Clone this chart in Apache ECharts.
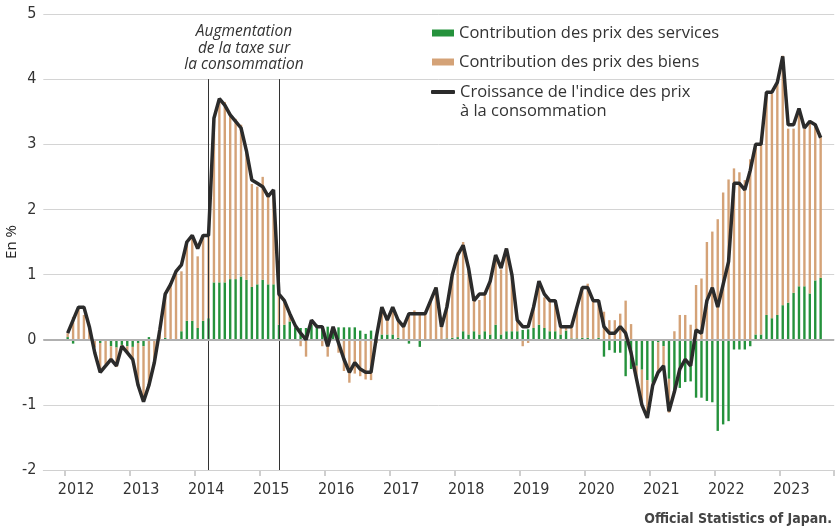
<!DOCTYPE html>
<html>
<head>
<meta charset="utf-8">
<script src="https://cdn.jsdelivr.net/npm/echarts@6/dist/echarts.min.js"></script>
<style>
  html, body { margin: 0; padding: 0; background: #fff; }
  #chart { width: 837px; height: 530px; }
</style>
</head>
<body>
<div id="chart"></div>
<script>
// Japon : contributions à la hausse des prix (glissement annuel, en %)

// axe des mois : de sept. 2011 à oct. 2023 (marges vides de part et d'autre des données)
const axisStart = { year: 2011, month: 9 };
const axisMonthCount = 146;
const dataStart = '2012-01';

// contribution des services (une valeur par mois, janv. 2012 -> août 2023)
const services = [
  0.04, -0.06, 0, 0, 0, 0, -0.05, -0.02, -0.1, -0.12, -0.08, -0.1,
  -0.11, -0.05, -0.1, 0.04, 0, 0.01, 0.03, 0, 0, 0.13, 0.29, 0.29,
  0.18, 0.29, 0.33, 0.88, 0.88, 0.88, 0.93, 0.93, 0.97, 0.92, 0.81, 0.85,
  0.92, 0.85, 0.85, 0.23, 0.23, 0.28, 0.19, 0.18, 0.18, 0.23, 0.23, 0.19,
  0.2, 0.18, 0.19, 0.19, 0.19, 0.19, 0.14, 0.09, 0.14, 0.06, 0.08, 0.08,
  0.08, 0.03, 0, -0.06, 0, -0.11, 0, 0, 0, 0, 0.02, 0.03,
  0.04, 0.13, 0.08, 0.13, 0.08, 0.13, 0.08, 0.23, 0.08, 0.13, 0.13, 0.13,
  0.15, 0.16, 0.18, 0.23, 0.18, 0.13, 0.13, 0.08, 0.14, 0.02, 0.02, 0.03,
  0.03, 0.01, 0.03, -0.26, -0.16, -0.2, -0.2, -0.56, -0.45, -0.4, -0.46, -0.62,
  -0.66, -0.04, -0.1, -0.6, -0.79, -0.74, -0.65, -0.64, -0.89, -0.89, -0.94, -0.96,
  -1.4, -1.3, -1.25, -0.15, -0.15, -0.15, -0.1, 0.08, 0.08, 0.38, 0.33, 0.38,
  0.53, 0.57, 0.72, 0.82, 0.82, 0.71, 0.91, 0.95
];

// contribution des biens
const biens = [
  0.06, 0.35, 0.5, 0.38, 0.2, -0.12, -0.45, -0.36, -0.22, -0.3, -0.05, -0.12,
  -0.2, -0.65, -0.85, -0.72, -0.35, 0.15, 0.7, 0.84, 1.05, 0.92, 1.22, 1.3,
  1.1, 1.3, 1.28, 2.5, 2.83, 2.77, 2.54, 2.46, 2.33, 1.98, 1.58, 1.5,
  1.58, 1.35, 1.44, 0.48, 0.36, 0.13, 0.04, -0.1, -0.26, 0.07, 0, -0.1,
  -0.26, 0, -0.2, -0.48, -0.66, -0.52, -0.56, -0.61, -0.62, -0.05, 0.42, 0.22,
  0.42, 0.27, 0.2, 0.4, 0.45, 0.4, 0.4, 0.6, 0.8, 0.2, 0.55, 1.0,
  1.3, 1.37, 0.97, 0.47, 0.53, 0.57, 0.82, 1.07, 1.0, 1.27, 0.82, 0.17,
  -0.1, -0.05, 0.32, 0.67, 0.47, 0.47, 0.45, 0.14, 0.05, 0.2, 0.48, 0.77,
  0.83, 0.6, 0.53, 0.43, 0.3, 0.3, 0.4, 0.6, 0.24, -0.2, -0.5, -0.55,
  -0.05, -0.45, -0.3, -0.52, 0.13, 0.38, 0.38, 0.23, 0.84, 0.94, 1.5, 1.66,
  1.85, 2.26, 2.46, 2.63, 2.57, 2.45, 2.77, 2.87, 2.92, 3.42, 3.45, 3.6,
  3.83, 2.67, 2.52, 2.7, 2.42, 2.63, 2.38, 2.16
];

// croissance de l'indice des prix à la consommation
const ipc = [
  0.1, 0.3, 0.5, 0.5, 0.2, -0.2, -0.5, -0.4, -0.3, -0.4, -0.1, -0.2,
  -0.3, -0.7, -0.95, -0.7, -0.35, 0.15, 0.7, 0.85, 1.05, 1.15, 1.5, 1.6,
  1.4, 1.6, 1.6, 3.4, 3.7, 3.6, 3.45, 3.35, 3.25, 2.9, 2.45, 2.4,
  2.35, 2.2, 2.3, 0.7, 0.6, 0.4, 0.22, 0.1, 0, 0.3, 0.2, 0.2,
  -0.1, 0.2, -0.05, -0.3, -0.5, -0.35, -0.45, -0.5, -0.5, 0.05, 0.5, 0.3,
  0.5, 0.3, 0.2, 0.4, 0.4, 0.4, 0.4, 0.6, 0.8, 0.2, 0.5, 1.0,
  1.3, 1.45, 1.1, 0.6, 0.7, 0.7, 0.9, 1.3, 1.1, 1.4, 1.0, 0.3,
  0.2, 0.2, 0.5, 0.9, 0.7, 0.6, 0.6, 0.2, 0.2, 0.2, 0.5, 0.8,
  0.8, 0.6, 0.6, 0.2, 0.1, 0.1, 0.2, 0.1, -0.2, -0.6, -1.0, -1.2,
  -0.7, -0.5, -0.4, -1.1, -0.8, -0.45, -0.3, -0.4, 0.15, 0.1, 0.6, 0.8,
  0.5, 0.85, 1.2, 2.4, 2.4, 2.3, 2.6, 3.0, 3.0, 3.8, 3.8, 3.95,
  4.35, 3.3, 3.3, 3.55, 3.25, 3.35, 3.3, 3.1
];

// traits verticaux : période de la hausse de la taxe sur la consommation
const taxMarks = ['2014-03', '2015-04'];

const nameServices = 'Contribution des prix des services';
const nameBiens = 'Contribution des prix des biens';
const nameIpc = "Croissance de l'indice des prix\nà la consommation";

const uiFont = "'Open Sans', 'Noto Sans', sans-serif";
const axisFont = "'Liberation Sans Narrow', 'DejaVu Sans Condensed', 'DejaVu Sans', sans-serif";

function monthLabel(year, month) {
  return year + '-' + String(month).padStart(2, '0');
}

// liste des mois de l'axe
const months = [];
for (let k = 0; k < axisMonthCount; k++) {
  const m = axisStart.month - 1 + k;
  months.push(monthLabel(axisStart.year + Math.floor(m / 12), (m % 12) + 1));
}
const offset = months.indexOf(dataStart);

function toPairs(values) {
  return values.map((v, i) => [months[offset + i], v]);
}

const isJanuary = (index, value) => value.endsWith('-01');

const chart = echarts.init(document.getElementById('chart'), null, { renderer: 'canvas' });

const option = {
  animation: false,
  backgroundColor: '#fff',
  grid: { left: 43.3, right: 2.8, top: 14, bottom: 60, outerBoundsMode: 'none' },
  legend: [
    {
      orient: 'vertical',
      left: 432,
      top: 23.5,
      padding: 0,
      itemWidth: 22,
      itemHeight: 7,
      itemGap: 10,
      selectedMode: false,
      textStyle: { fontSize: 16.5, lineHeight: 19, color: '#333', fontFamily: uiFont },
      data: [
        { name: nameServices, icon: 'rect' },
        { name: nameBiens, icon: 'rect' }
      ]
    },
    {
      left: 431,
      top: 63.5,
      padding: 0,
      itemWidth: 24,
      itemHeight: 4,
      selectedMode: false,
      // ligne vide en tête : la première ligne du texte reste à hauteur du trait
      formatter: name => '\n' + name,
      textStyle: { fontSize: 16.5, lineHeight: 19, color: '#333', fontFamily: uiFont },
      data: [{ name: nameIpc, icon: 'roundRect' }]
    }
  ],
  xAxis: {
    type: 'category',
    data: months,
    boundaryGap: true,
    axisLine: { show: true, onZero: false, lineStyle: { color: '#d0d0d0', width: 1 } },
    axisTick: {
      show: true,
      interval: isJanuary,
      alignWithLabel: false,
      length: 6,
      lineStyle: { color: '#cfcfcf', width: 2 }
    },
    axisLabel: {
      interval: isJanuary,
      formatter: v => v.slice(0, 4),
      margin: 12,
      padding: [0, 0, 0, 17],
      fontSize: 16,
      color: '#333',
      fontFamily: axisFont
    },
    splitLine: { show: false }
  },
  yAxis: {
    type: 'value',
    min: -2,
    max: 5,
    interval: 1,
    name: 'En %',
    nameLocation: 'middle',
    nameRotate: 90,
    nameGap: 24,
    nameMoveOverlap: false,
    nameTextStyle: { fontSize: 15, color: '#222', fontFamily: uiFont },
    axisLine: { show: false },
    axisTick: { show: false },
    axisLabel: { fontSize: 16, color: '#333', margin: 7, fontFamily: axisFont },
    splitLine: { lineStyle: { color: '#d4d4d4', width: 1 } }
  },
  series: [
    {
      name: nameServices,
      type: 'bar',
      stack: 'contrib',
      barWidth: 2.4,
      itemStyle: { color: '#25923c' },
      data: toPairs(services),
      markLine: {
        silent: true,
        symbol: 'none',
        label: { show: false },
        lineStyle: { color: '#333', width: 1, type: 'solid' },
        data: taxMarks.map(d => [{ coord: [d, -2] }, { coord: [d, 4] }])
      }
    },
    {
      name: nameBiens,
      type: 'bar',
      stack: 'contrib',
      barWidth: 2.4,
      itemStyle: { color: '#d4a277' },
      data: toPairs(biens),
      markLine: {
        silent: true,
        symbol: 'none',
        label: { show: false },
        lineStyle: { color: '#b0b0b0', width: 2, type: 'solid' },
        data: [{ yAxis: 0 }]
      }
    },
    {
      name: nameIpc,
      type: 'line',
      symbol: 'none',
      z: 5,
      lineStyle: { color: '#2b2b2b', width: 3.5 },
      itemStyle: { color: '#2b2b2b' },
      data: toPairs(ipc)
    }
  ],
  graphic: [
    {
      type: 'text',
      x: 244,
      y: 23.5,
      style: {
        text: 'Augmentation\nde la taxe sur\nla consommation',
        align: 'center',
        verticalAlign: 'top',
        fill: '#333',
        fontSize: 15.5,
        fontStyle: 'italic',
        lineHeight: 16.5,
        fontFamily: uiFont
      }
    },
    {
      type: 'text',
      right: 5,
      bottom: 4,
      style: {
        text: 'Official Statistics of Japan.',
        fill: '#444',
        fontSize: 14,
        fontWeight: 'bold',
        fontFamily: axisFont
      }
    }
  ]
};

chart.setOption(option);
</script>
</body>
</html>
